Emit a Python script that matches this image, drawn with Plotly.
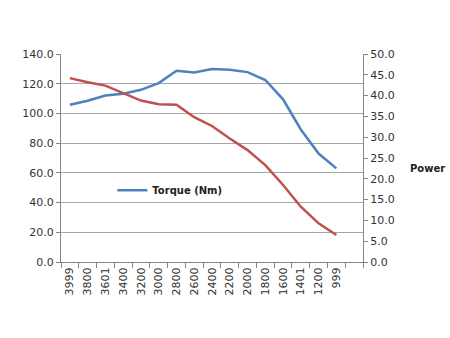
import plotly.graph_objects as go

rpm = ["3999", "3800", "3601", "3400", "3200", "3000", "2800", "2600",
       "2400", "2200", "2000", "1800", "1600", "1401", "1200", "999"]
torque = [105.8, 108.5, 112.0, 113.2, 115.9, 120.4, 128.7, 127.6,
          129.9, 129.4, 127.8, 122.5, 109.5, 89.2, 73.0, 63.0]
power = [44.2, 43.2, 42.4, 40.6, 38.8, 37.9, 37.8, 34.8,
         32.7, 29.7, 26.9, 23.3, 18.5, 13.3, 9.3, 6.5]
left_ticks = [0, 20, 40, 60, 80, 100, 120, 140]
right_ticks = [0, 5, 10, 15, 20, 25, 30, 35, 40, 45, 50]
categories = rpm + [" "]

font = dict(family="DejaVu Sans", size=11, color="#333333")

fig = go.Figure()
fig.add_trace(go.Scatter(x=rpm, y=torque, mode="lines", name="Torque (Nm)",
                         line=dict(color="#4F81BD", width=2.5)))
fig.add_trace(go.Scatter(x=rpm, y=power, mode="lines", name="Power",
                         line=dict(color="#C0504D", width=2.5),
                         yaxis="y2", showlegend=False))

fig.update_layout(
    width=450, height=338,
    margin=dict(l=61, r=87, t=54, b=76),
    paper_bgcolor="white", plot_bgcolor="white",
    font=font,
    xaxis=dict(type="category", categoryorder="array", categoryarray=categories,
               range=[-0.5, len(categories) - 0.5],
               tickson="boundaries", ticks="outside", ticklen=5, tickcolor="#868686",
               showline=True, linecolor="#868686", linewidth=1,
               showgrid=False, tickangle=-90, tickfont=font),
    yaxis=dict(range=[0, 140], tickvals=left_ticks, tickformat=".1f",
               showgrid=True, gridcolor="#A6A6A6", gridwidth=1,
               showline=True, linecolor="#868686", ticks="outside", ticklen=4,
               tickcolor="#868686", zeroline=False, tickfont=font),
    yaxis2=dict(range=[0, 50], tickvals=right_ticks, tickformat=".1f",
                overlaying="y", side="right", showgrid=False,
                showline=True, linecolor="#868686", ticks="outside", ticklen=4,
                tickcolor="#868686", zeroline=False, tickfont=font),
    legend=dict(x=0.17, y=0.345, xanchor="left", yanchor="middle",
                bgcolor="rgba(0,0,0,0)",
                font=dict(family="DejaVu Sans", size=10, color="#222222")),
    annotations=[dict(text="<b>Power</b>", xref="paper", yref="paper",
                      x=1.15, y=0.45, xanchor="left", yanchor="middle",
                      showarrow=False,
                      font=dict(family="DejaVu Sans", size=10, color="#222222"))],
)
fig.update_layout(legend_font_weight="bold")

fig.write_html("out.html")
